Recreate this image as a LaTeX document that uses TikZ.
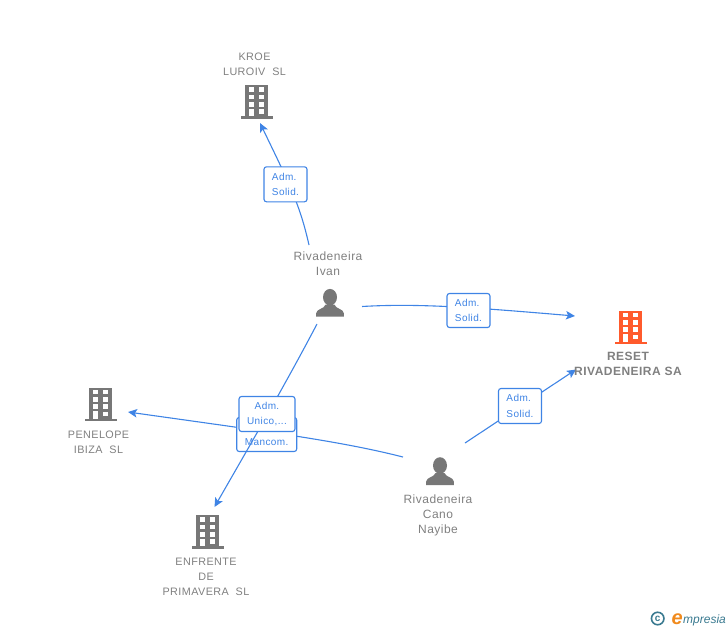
\documentclass[tikz,border=0pt]{standalone}
\usepackage{fontspec}
\setmainfont{Liberation Sans}
\newfontfamily\namefont[LetterSpace=4]{Liberation Sans}
\usetikzlibrary{arrows.meta,backgrounds}
\definecolor{linkblue}{HTML}{3F84E5}
\definecolor{icongray}{HTML}{777777}
\definecolor{namegray}{HTML}{808080}
\definecolor{resetred}{HTML}{FF5A2C}
\definecolor{logoteal}{HTML}{3A7A90}
\definecolor{logoorange}{HTML}{F08A1D}
\tikzset{
    building/.pic={
        \fill[pic actions] (-16,0) rectangle (16,-2.5);
        \fill[pic actions] (-11.4,-2) rectangle (11.4,-33.5);
        \foreach \yrow in {-29,-21.7,-14.3} {
            \fill[white] (-7.6,\yrow-2.3) rectangle (-2.6,\yrow+2.3);
            \fill[white] (2.6,\yrow-2.3) rectangle (7.6,\yrow+2.3);
        }
        \fill[white] (2.6,-9.5) rectangle (7.6,-4.9);
        \fill[white] (-7.6,-9.8) rectangle (-2.6,-2.5);
    },
    person/.pic={
        \fill[pic actions] (0,-19.5) ellipse (7 and 8.3);
        \fill[pic actions] (-13.8,0) -- (-13.8,-3.5) .. controls (-13.5,-8) and (-6,-7.5) .. (-4.5,-12)
            -- (4.5,-12) .. controls (6,-7.5) and (13.5,-8) .. (13.8,-3.5) -- (13.8,0) -- cycle;
    }
}
\begin{document}
\begin{tikzpicture}[x=1pt, y=-1pt,
            link/.style={draw=linkblue, line width=1.1pt, -{Stealth[length=9pt, width=8.5pt, inset=2pt]}},
            rolebox/.style={draw=linkblue, line width=1.1pt, fill=white, rounded corners=2.5pt,
                align=left, inner sep=0pt, text=linkblue,
                font=\namefont\fontsize{10}{15.5}\selectfont},
            namelabel/.style={align=center, inner sep=0pt, text=namegray,
                font=\namefont\fontsize{10.8}{15}\selectfont},
            personlabel/.style={namelabel, font=\namefont\fontsize{12}{15}\selectfont}]
        \useasboundingbox (0,0) rectangle (728,630);

        \pic[fill=icongray] (kroe) at (256.7,118.5) {building};
        \pic[fill=resetred] (reset) at (630.5,344) {building};
        \pic[fill=icongray] (penelope) at (100.7,421) {building};
        \pic[fill=icongray] (enfrente) at (207.5,548.5) {building};
        \pic[fill=icongray] (ivan) at (330,316.7) {person};
        \pic[fill=icongray] (nayibe) at (440,485) {person};

        \node[namelabel] (kroename) at (254.5,64.3) {KROE\\LUROIV~~SL};
        \node[personlabel] (ivanname) at (328,263.5) {Rivadeneira\\Ivan};
        \node[namelabel, font=\namefont\bfseries\fontsize{12}{15}\selectfont] (resetname) at (628,364.3) {RESET\\RIVADENEIRA~SA};
        \node[namelabel] (penelopename) at (98.5,442.3) {PENELOPE\\IBIZA~~SL};
        \node[personlabel] (nayibename) at (438,515.5) {Rivadeneira\\Cano\\Nayibe};
        \node[namelabel] (enfrentename) at (206,577) {ENFRENTE\\DE\\PRIMAVERA~~SL};

        \coordinate (ivanup) at (309,245);
        \coordinate (ivanright) at (362,306.5);
        \coordinate (ivandown) at (317,324);
        \coordinate (kroein) at (260,123);
        \coordinate (resettop) at (575,316);
        \coordinate (resetlow) at (576,369.5);
        \coordinate (nayibeup) at (465,443);
        \coordinate (nayibeleft) at (403,457);
        \coordinate (penelopein) at (128,412);
        \coordinate (enfrentein) at (214.5,507);

        \node[rolebox, minimum width=43, minimum height=35] (admkroe) at (285.5,184.3) {Adm.\\Solid.};
        \node[rolebox, minimum width=43, minimum height=34] (admreset) at (468.5,310.5) {Adm.\\Solid.};
        \node[rolebox, minimum width=43, minimum height=35] (admcano) at (520,406) {Adm.\\Solid.};
        \node[rolebox, align=center, minimum width=60, minimum height=34] (admmancom) at (266.7,434.5) {\phantom{Adm.}\\Mancom.};

        \begin{scope}[on background layer]
            \draw[link] (ivanup) .. controls (300,205) and (290,185) .. (kroein);
            \draw[link] (ivanright) .. controls (420,303) and (480,308) .. (resettop);
            \draw[link] (nayibeup) -- (resetlow);
            \draw[link] (nayibeleft) .. controls (340,441) and (270,432) .. (penelopein);
        \end{scope}
        \draw[link] (ivandown) .. controls (285,385) and (250,445) .. (enfrentein);

        \node[rolebox, align=center, minimum width=56, minimum height=35] (admunico) at (267,414) {Adm.\\Unico,...};

        \node[draw=logoteal, line width=1.6pt, circle, minimum size=12.5pt, inner sep=0pt, text=logoteal,
            font=\bfseries\fontsize{10}{10}\selectfont] (logoc) at (657.7,618.5) {c};
        \node[inner sep=0pt, anchor=base west, text=logoorange,
            font=\itshape\bfseries\fontsize{20}{20}\selectfont] (logoe) at (671.5,624) {e};
        \node[inner sep=0pt, anchor=base west, text=logoteal,
            font=\itshape\fontsize{12}{14}\selectfont] (logotext) at (683,623) {mpresia};
\end{tikzpicture}
\end{document}
